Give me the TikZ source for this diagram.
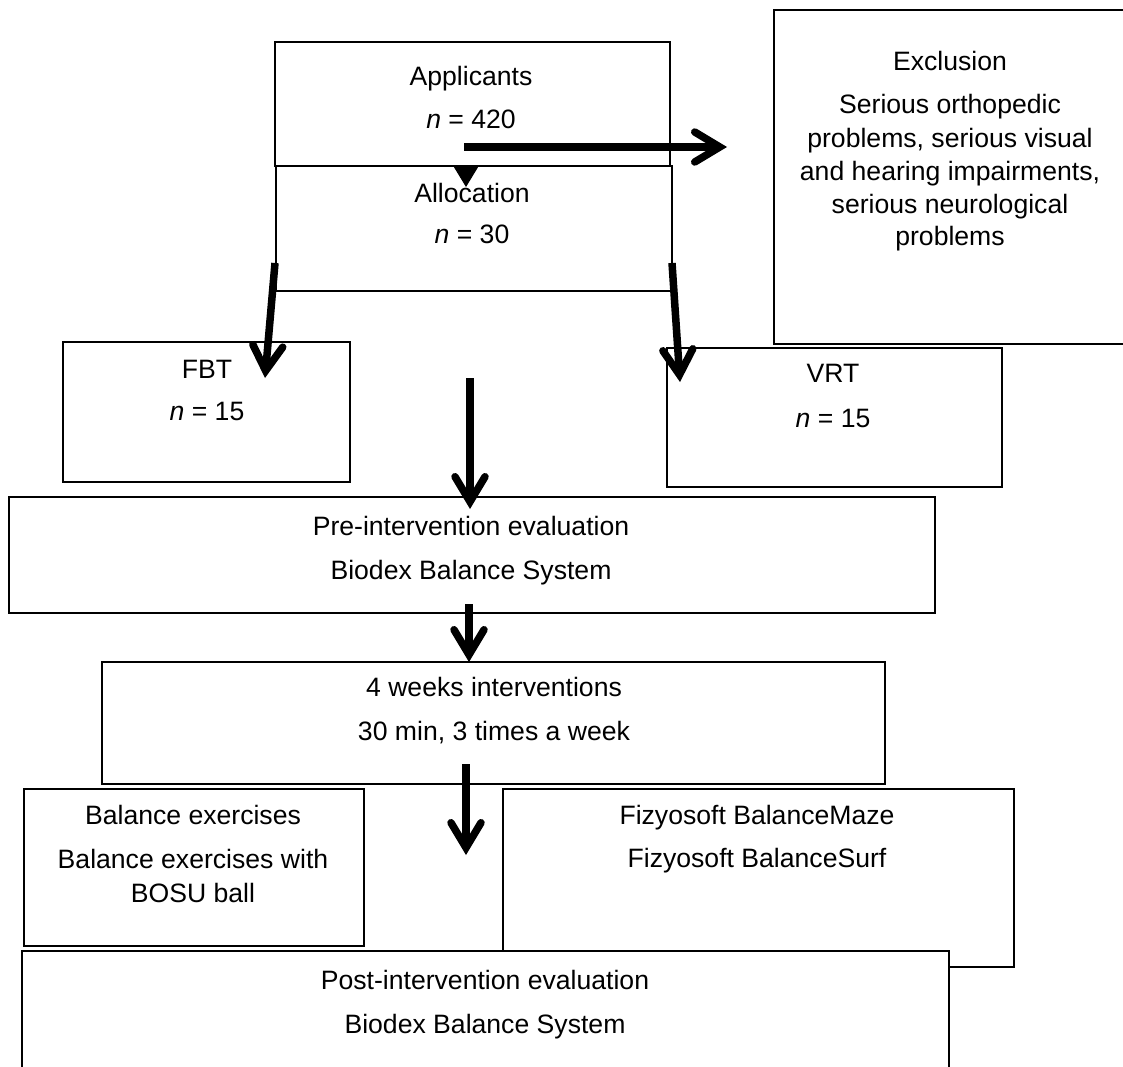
\documentclass[tikz,border=0pt]{standalone}
\usepackage{fontspec}
\setmainfont{Liberation Sans}
\usetikzlibrary{arrows.meta,fit}
\begin{document}
\begin{tikzpicture}[x=1pt,y=-1pt,
  boxst/.style={draw, line width=1.4pt, fill=white, inner sep=0pt},
  txt/.style={anchor=base, inner sep=0pt, font=\fontsize{26.6}{32}\selectfont},
  bigarrow/.style={line width=7.5pt, -{Straight Barb[length=25pt,width=30pt,line cap=round,line join=miter]}},
  smallarrow/.style={line width=1pt, -{Triangle[length=20pt,width=24pt]}},
]
\useasboundingbox (0,0) rectangle (1123,1066);
% boxes
\node[boxst, fit={(275,42) (670,166)}] (app) {};
\node[boxst, fit={(276,166) (672,291)}] (alloc) {};
\node[boxst, fit={(774,10) (1135,344)}] (excl) {};
\node[boxst, fit={(63,342) (350,482)}] (fbt) {};
\node[boxst, fit={(667,348) (1002,487)}] (vrt) {};
\node[boxst, fit={(9,497) (935,613)}] (pre) {};
\node[boxst, fit={(102,662) (885,784)}] (weeks) {};
\node[boxst, fit={(24,789) (364,946)}] (bal) {};
\node[boxst, fit={(503,789) (1014,967)}] (fiz) {};
\node[boxst, fit={(22,951) (949,1085)}] (post) {};
% texts
\node[txt] (tapp1) at (471,85) {Applicants};
\node[txt] (tapp2) at (471,128) {\textit{n} = 420};
\node[txt] (tall1) at (472,202) {Allocation};
\node[txt] (tall2) at (472,243) {\textit{n} = 30};
\node[txt] (tex0) at (950,70) {Exclusion};
\node[txt] (tex1) at (950,113) {Serious orthopedic};
\node[txt] (tex2) at (950,147) {problems, serious visual};
\node[txt] (tex3) at (950,180) {and hearing impairments,};
\node[txt] (tex4) at (950,213) {serious neurological};
\node[txt] (tex5) at (950,245) {problems};
\node[txt] (tfbt1) at (207,378) {FBT};
\node[txt] (tfbt2) at (207,420) {\textit{n} = 15};
\node[txt] (tvrt1) at (833,382) {VRT};
\node[txt] (tvrt2) at (833,427) {\textit{n} = 15};
\node[txt] (tpre1) at (471,535) {Pre-intervention evaluation};
\node[txt] (tpre2) at (471,579) {Biodex Balance System};
\node[txt] (twk1) at (494,696) {4 weeks interventions};
\node[txt] (twk2) at (494,740) {30 min, 3 times a week};
\node[txt] (tbal1) at (193,824) {Balance exercises};
\node[txt] (tbal2) at (193,868) {Balance exercises with};
\node[txt] (tbal3) at (193,902) {BOSU ball};
\node[txt] (tfiz1) at (757,824) {Fizyosoft BalanceMaze};
\node[txt] (tfiz2) at (757,867) {Fizyosoft BalanceSurf};
\node[txt] (tpost1) at (485,989) {Post-intervention evaluation};
\node[txt] (tpost2) at (485,1033) {Biodex Balance System};
% connector end points
\coordinate (s1) at (466,166);
\coordinate (s2) at (466,187);
\coordinate (h1) at (464,147);
\coordinate (h2) at (727,147);
\coordinate (l1) at (275,263);
\coordinate (l2) at (265,378);
\coordinate (r1) at (672,263);
\coordinate (r2) at (680,382);
\coordinate (c1) at (470,378);
\coordinate (c2) at (470,509);
\coordinate (p1) at (469,604);
\coordinate (p2) at (469,662);
\coordinate (w1) at (466,764);
\coordinate (w2) at (466,855);
% connectors
\draw[smallarrow] (s1) -- (s2);
\draw[bigarrow] (h1) -- (h2);
\draw[bigarrow] (l1) -- (l2);
\draw[bigarrow] (r1) -- (r2);
\draw[bigarrow] (c1) -- (c2);
\draw[bigarrow] (p1) -- (p2);
\draw[bigarrow] (w1) -- (w2);
\end{tikzpicture}
\end{document}
